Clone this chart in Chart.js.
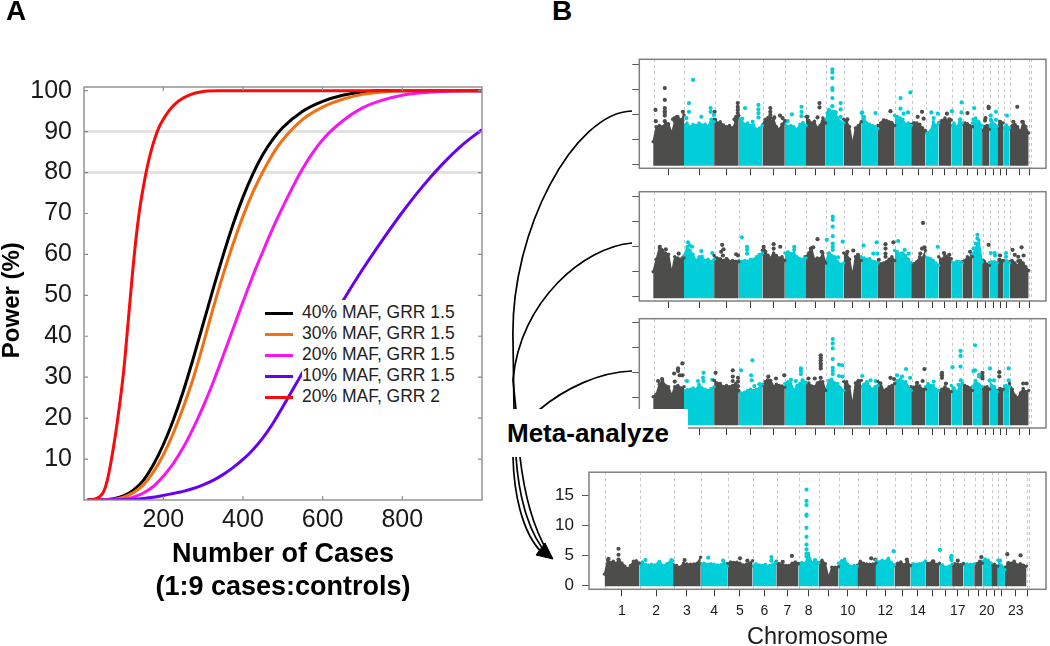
<!DOCTYPE html>
<html>
<head>
<meta charset="utf-8">
<title>Power and Manhattan plots</title>
<script src="https://cdn.jsdelivr.net/npm/chart.js@4"></script>
<style>
  html, body { margin: 0; padding: 0; background: #fff; }
  #page { position: relative; width: 1050px; height: 646px; overflow: hidden; font-family: "Liberation Sans", Arial, sans-serif; }
  #page canvas { position: absolute; }
  .tag { position: absolute; font-weight: bold; font-size: 28px; line-height: 28px; color: #000; }
  #arrows { position: absolute; left: 0; top: 0; z-index: 3; }
  #meta { position: absolute; left: 500px; top: 409px; width: 188px; height: 48px; background: #fff; z-index: 4;
          font-weight: bold; font-size: 26px; line-height: 48px; color: #000; text-indent: 7px; white-space: nowrap; }
  #legendText { position: absolute; left: 302px; top: 300px; width: 165px; background: #fff; z-index: 2; padding-top: 2px; }
  #legendText div { font-size: 17.5px; height: 21px; line-height: 21px; color: #222; white-space: nowrap; }
  #legendLines { position: absolute; left: 265px; top: 312px; z-index: 2; }
  #legendLines div { height: 3px; width: 28px; margin-bottom: 18px; }
</style>
</head>
<body>
<div id="page">
  <canvas id="powerChart" width="500" height="620" style="left:0;top:0"></canvas>
  <canvas id="panel1" width="450" height="130" style="left:600px;top:50px"></canvas>
  <canvas id="panel2" width="450" height="130" style="left:600px;top:182px"></canvas>
  <canvas id="panel3" width="450" height="130" style="left:600px;top:309px"></canvas>
  <canvas id="panel4" width="510" height="195" style="left:540px;top:454px"></canvas>
  <div class="tag" style="left:6px;top:-3px">A</div>
  <div class="tag" style="left:552px;top:-3px">B</div>
  <div id="legendLines"></div>
  <div id="legendText"></div>
  <div id="meta">Meta-analyze</div>
  <svg id="arrows" width="1050" height="646" fill="none" stroke="#000" stroke-width="1.7">
    <path d="M632 111 C575 112 510 230 513 340 L514 410"/>
    <path d="M632 243 C585 247 520 300 513 380 L516 410"/>
    <path d="M632 371 C600 372 565 388 539 410"/>
    <path d="M513 457 C514 500 525 540 546 556"/>
    <path d="M516 457 C519 500 530 536 548 555"/>
    <path d="M520 457 C525 500 534 530 549 554"/>
    <polygon points="553,559 536,555 545,543" fill="#000" stroke="#000" stroke-width="1"/>
  </svg>
</div>
<script>
// Panel A - power curves
const caseCounts = [10, 25, 50, 75, 100, 125, 150, 175, 200, 225, 250, 275, 300, 325, 350, 375, 400, 425, 450, 475, 500, 550, 600, 650, 700, 750, 800, 850, 900, 950, 1000];
const maf40 = [0, 0, 0.1, 0.3, 1, 2.4, 4.8, 8.6, 13.5, 19.5, 26.5, 34.5, 43, 51.5, 59.7, 67.3, 74, 79.7, 84.4, 88.1, 91, 95, 97.4, 98.9, 99.7, 100, 100, 100, 100, 100, 100];
const maf30 = [0, 0, 0.1, 0.2, 0.7, 1.8, 3.7, 6.8, 11, 16.3, 22.6, 29.7, 38, 46.8, 55, 62.5, 69.3, 75.2, 80.2, 84.5, 88, 93, 96, 97.9, 99.1, 99.7, 100, 100, 100, 100, 100];
const maf20 = [0, 0, 0, 0.1, 0.2, 0.7, 1.7, 3.3, 5.8, 8.9, 12.8, 17.5, 22.8, 28.7, 35.2, 41.8, 48.4, 54.8, 60.7, 66.4, 71.6, 81, 88, 92.6, 95.8, 97.7, 98.9, 99.5, 99.8, 100, 100];
const maf10 = [0, 0, 0, 0, 0.05, 0.15, 0.35, 0.65, 1.1, 1.6, 2.1, 2.8, 3.7, 4.8, 6.2, 7.9, 9.9, 12.3, 15.2, 18.7, 22.8, 31.2, 40, 48.5, 56.3, 63.5, 70.3, 76.5, 82, 86.7, 90.5];
const grrCases = [10, 25, 40, 50, 60, 70, 80, 90, 100, 110, 120, 130, 140, 150, 160, 170, 180, 190, 200, 215, 230, 250, 270, 290, 310, 340, 1000];
const grr2 = [0, 0.1, 0.8, 2, 5, 10, 16, 23, 31, 41.5, 52.5, 62.5, 70.5, 76.5, 81.5, 85.5, 88.7, 91.2, 93, 95.2, 96.8, 98.2, 99.1, 99.6, 99.9, 100, 100];
const seriesNames = ['40% MAF, GRR 1.5', '30% MAF, GRR 1.5', '20% MAF, GRR 1.5', '10% MAF, GRR 1.5', '20% MAF, GRR 2'];
const seriesCases = [caseCounts, caseCounts, caseCounts, caseCounts, grrCases];
const seriesValues = [maf40, maf30, maf20, maf10, grr2];
const seriesColors = ['#000000', '#f2700f', '#f516f0', '#6a00f0', '#fa0a0a'];
const powerTicks = [10, 20, 30, 40, 50, 60, 70, 80, 90, 100];
const caseTicks = [200, 400, 600, 800];
const powerGuides = [80, 90];

// Panel B - chromosome layout (Mb), last one has no marks
const chrLengths = [249, 243, 199, 191, 181, 171, 159, 146, 141, 135, 135, 133, 115, 107, 102, 90, 81, 78, 59, 63, 48, 51, 155, 20];
const chrLabels = ['1', '2', '3', '4', '5', '6', '7', '8', '', '10', '', '12', '', '14', '', '', '17', '', '', '20', '', '', '23', ''];
const logTicks = [0, 2, 4, 6, 8];
const metaTicks = [0, 5, 10, 15];

// top of the point mass along each chromosome
const panel1Mass = [
  [1.8, 3.0, 3.1, 3.0, 3.3, 3.25, 2.5, 3.4, 3.8, 3.55, 3.95], [3.15, 3.3, 3.0, 3.2, 3.1, 3.3, 3.15, 3.2, 3.05, 3.6, 3.4],
  [3.6, 3.3, 3.4, 3.15, 3.0, 3.1, 2.9, 3.4, 3.9], [3.7, 3.5, 3.2, 3.3, 3.1, 3.15, 2.8, 2.9, 3.1], [3.15, 3.6, 3.75, 3.4, 3.6, 3.0, 2.8, 3.2, 3.5],
  [3.3, 3.0, 3.1, 3.0, 2.8, 3.2, 3.35, 3.1], [3.8, 3.5, 3.3, 3.45, 2.9, 3.1, 3.7, 3.3], [3.6, 4.2, 4.0, 4.2, 3.7, 3.4, 3.3], [3.6, 3.4, 3.0, 1.6, 2.9, 3.1, 3.4],
  [4.1, 3.7, 3.3, 3.2, 3.1, 3.0, 2.85], [3.1, 3.3, 3.55, 3.5, 3.4, 3.35, 3.1], [3.9, 3.5, 3.7, 3.6, 3.2, 3.3, 3.1], [3.2, 3.0, 3.3, 3.2, 2.9, 2.7],
  [2.5, 2.55, 2.7, 3.4, 3.1, 3.3], [3.3, 3.5, 3.7, 3.4, 3.55], [3.1, 3.3, 3.0, 3.4, 3.3], [3.2, 3.3, 3.25, 3.1, 3.0], [3.3, 3.7, 3.4, 3.1], [2.7, 3.0, 3.1, 2.8],
  [3.1, 3.4, 3.2, 3.05], [3.0, 3.4, 3.3], [2.9, 3.15, 2.9], [2.85, 3.1, 3.2, 3.0, 2.6, 3.4, 3.0, 2.5]
];
const panel2Mass = [
  [2.0, 3.0, 3.9, 3.7, 3.5, 3.4, 1.9, 3.2, 3.1, 3.0, 3.1], [3.3, 4.0, 3.7, 3.4, 2.9, 3.2, 3.25, 2.9, 3.0, 2.8, 3.0],
  [3.3, 3.1, 3.05, 2.9, 3.05, 2.85, 2.9, 2.85, 2.8], [2.9, 2.85, 2.9, 2.85, 3.0, 3.0, 3.2, 3.3, 3.5], [3.7, 3.5, 3.3, 3.1, 3.5, 3.3, 3.1, 3.2, 2.9],
  [3.5, 3.6, 3.45, 3.5, 3.2, 3.05, 3.0, 3.1], [3.2, 3.5, 3.9, 3.0, 3.1, 3.05, 3.5, 2.7], [2.8, 3.5, 3.3, 3.2, 2.8, 2.6, 2.7], [3.5, 3.4, 3.0, 1.7, 3.2, 3.2, 2.9],
  [3.2, 3.1, 3.0, 3.05, 2.85, 2.8, 2.7], [2.7, 2.65, 2.7, 2.8, 3.0, 3.2, 2.9], [3.7, 3.6, 3.4, 3.5, 3.3, 3.0, 2.7], [2.7, 2.65, 2.8, 3.2, 3.1, 3.7],
  [3.2, 3.1, 3.05, 2.9, 2.7, 2.5], [3.2, 3.0, 3.3, 3.1, 3.05], [2.8, 2.7, 2.85, 2.8, 2.7], [2.8, 2.9, 3.2, 3.1, 3.2], [3.4, 3.9, 4.5, 2.8], [2.9, 2.8, 2.6, 2.5],
  [2.75, 2.8, 2.8, 2.7], [2.7, 2.95, 2.9], [2.8, 2.9, 2.7], [2.8, 2.9, 2.7, 2.5, 2.9, 2.7, 2.4, 2.1]
];
const panel3Mass = [
  [2.1, 2.3, 3.1, 3.4, 3.0, 2.9, 2.2, 2.9, 3.0, 2.8, 2.9], [2.6, 2.65, 2.7, 2.8, 2.7, 3.1, 2.8, 2.7, 2.6, 2.75, 2.9],
  [3.4, 3.2, 3.15, 2.9, 3.0, 2.9, 3.0, 3.15, 2.6], [2.5, 2.4, 2.45, 2.6, 2.7, 2.6, 2.7, 2.8, 3.1], [3.0, 3.3, 3.4, 3.4, 2.9, 3.1, 3.0, 2.95, 2.85],
  [3.15, 3.3, 3.2, 2.6, 3.0, 3.15, 3.4, 3.2], [3.2, 3.2, 2.95, 2.9, 3.2, 3.3, 3.3, 2.6], [2.6, 3.4, 3.5, 3.2, 3.15, 2.8, 2.6], [3.3, 3.3, 2.9, 1.4, 3.2, 3.4, 3.4],
  [2.9, 3.1, 3.3, 2.9, 2.7, 2.9, 3.0], [3.3, 3.2, 2.6, 2.7, 2.9, 3.0, 3.15], [3.15, 3.4, 3.5, 3.3, 3.3, 2.9, 2.6], [2.9, 2.85, 3.0, 2.95, 2.7, 2.7],
  [2.9, 3.15, 3.0, 3.0, 2.7, 2.6], [2.6, 2.7, 2.9, 2.7, 2.5], [3.0, 2.8, 2.5, 2.9, 3.15], [3.15, 3.0, 2.9, 2.8, 2.6], [2.9, 3.4, 3.1, 2.9], [2.75, 2.85, 2.9, 2.7],
  [3.4, 3.0, 2.9, 2.5], [2.6, 2.75, 2.7], [2.6, 3.0, 2.9], [3.15, 2.7, 2.2, 2.0, 2.4, 2.75, 2.5, 2.6]
];
const panel4Mass = [
  [1.85, 4.2, 3.8, 4.0, 3.7, 4.2, 3.7, 3.2, 2.8, 3.3, 4.0, 4.1, 3.7], [3.7, 3.9, 3.5, 3.4, 3.5, 3.4, 3.6, 3.5, 3.3, 3.6, 3.9, 4.1],
  [3.45, 3.3, 3.0, 3.7, 3.55, 3.5, 3.55, 3.7, 4.7], [3.6, 3.7, 3.5, 3.6, 3.5, 3.4, 3.4, 3.8, 3.2], [3.6, 3.9, 3.8, 3.85, 3.7, 3.4, 3.5, 3.7, 4.1],
  [3.2, 3.6, 3.4, 3.3, 3.1, 3.3, 3.5, 3.9], [4.0, 3.6, 3.4, 3.3, 3.3, 3.7, 3.9, 3.6], [3.7, 3.8, 3.7, 5.3, 3.7, 4.2, 3.7], [3.7, 4.2, 3.6, 1.3, 3.0, 3.0, 3.1],
  [3.7, 4.1, 4.4, 3.5, 3.2, 3.3, 3.2], [3.3, 4.0, 3.7, 3.55, 3.5, 3.55, 3.7], [4.2, 3.9, 4.2, 4.0, 4.5, 3.8, 3.4], [3.3, 3.7, 3.9, 3.4, 4.0, 3.3],
  [3.2, 3.6, 3.5, 3.6, 3.7, 4.0], [4.0, 3.6, 4.0, 3.5, 3.7], [3.55, 3.4, 3.0, 3.2, 3.55], [3.2, 3.6, 3.5, 3.45, 3.6], [3.7, 3.55, 3.5, 3.55], [3.45, 3.6, 4.0, 3.7],
  [4.0, 4.4, 4.2, 3.7], [3.4, 3.5, 3.2], [4.2, 3.3, 2.6], [3.0, 3.5, 3.7, 4.0, 3.4, 3.6, 3.3, 3.2]
];

// single points standing out of the mass: [Mb, value]
const panel1Hits = [
  [19, 4.35], [21, 3.45], [94, 6.1], [94, 5.15], [94, 4.5], [94, 4.25], [94, 4.1], [94, 3.9], [94, 3.45], [240, 4.2], [193, 3.8], [174, 3.7], [161, 3.6],
  [322, 6.75], [289, 4.9], [289, 4.2], [268, 3.7], [389, 3.8], [464, 4.5], [464, 4.2], [496, 4.2], [490, 3.95], [683, 4.9], [683, 4.6], [683, 4.35], [683, 4.1], [670, 3.8], [501, 3.55], [657, 3.6],
  [742, 4.5], [850, 4.75], [850, 4.4], [850, 4.1], [850, 3.75], [718, 3.65], [804, 3.4], [946, 4.5], [946, 4.2], [946, 3.95], [946, 3.7], [1024, 3.9], [1045, 3.7], [978, 3.75],
  [1120, 4], [1198, 4.6], [1198, 4.2], [1198, 3.85], [1085, 3.45], [1343, 4.9], [1343, 4.55], [1246, 3.8], [1327, 3.75],
  [1447, 7.6], [1447, 7.35], [1447, 6.9], [1447, 6.1], [1447, 5.95], [1447, 5.3], [1447, 4.65], [1447, 4.2], [1514, 4.9], [1514, 4.4], [1514, 3.8], [1420, 4.35], [1474, 4.15], [1407, 4.1], [1461, 3.95],
  [1568, 3.6], [1796, 4.1], [1688, 4.15], [1702, 3.8], [1916, 4.25], [1863, 3.5], [1997, 5.3], [1997, 4.45], [2077, 5.75], [2058, 4.15], [2023, 4.05], [1970, 3.8],
  [2171, 4.2], [2136, 3.8], [2184, 3.65], [2106, 3.3], [2246, 4.15], [2299, 4.05], [2265, 3.7], [2372, 4.05], [2391, 3.6], [2412, 4.25], [2479, 3.6], [2490, 4.95], [2490, 4.15], [2538, 4.1],
  [2592, 4.5], [2586, 3.6], [2709, 4.6], [2709, 4.5], [2683, 3.7], [2680, 3.5], [2768, 4.2], [2726, 3.9], [2726, 3.55], [2768, 3.55], [2801, 3.4], [2857, 3.9], [2940, 4.6], [2908, 3.4], [2980, 3.4]
];
const panel2Hits = [
  [54, 4], [67, 3.75], [102, 3.8], [80, 3.45], [206, 3.45], [240, 3.1], [281, 4.35], [295, 4.1], [314, 4], [281, 3.75], [300, 3.35], [389, 3.65], [477, 3.5],
  [557, 4.15], [568, 3.8], [549, 3.6], [563, 3.3], [670, 3.4], [685, 3.3], [595, 3], [716, 4.75], [758, 4], [758, 3.75], [758, 3.45], [858, 3.35], [878, 3.4],
  [892, 4], [892, 3.75], [973, 4.2], [973, 3.85], [1026, 4], [925, 3.3], [970, 3.3], [906, 3.6], [1139, 4], [1139, 3.75], [1099, 3.45], [1227, 3.2],
  [1327, 4.6], [1273, 3.85], [1292, 3.95], [1273, 3.6], [1361, 3.6], [1345, 2.95], [1450, 6.4], [1450, 6.15], [1450, 5.6], [1450, 4.85], [1450, 4.25], [1450, 4], [1450, 3.75], [1402, 4.55], [1530, 4.4], [1493, 3.15], [1420, 3.45],
  [1568, 3.6], [1616, 3.7], [1654, 3.35], [1699, 4.1], [1804, 4.35], [1777, 3.45], [1810, 3.45], [1822, 2.95], [1876, 4.2], [1876, 3.85], [1876, 3.45], [1876, 3.2], [1940, 4.35], [1978, 4.45], [2031, 3.75], [2064, 3.45], [2005, 3.45],
  [2179, 5.9], [2190, 3.95], [2171, 3.85], [2157, 3.45], [2297, 4], [2348, 3.5], [2391, 3.35], [2380, 3.2], [2559, 3.6], [2573, 3.35],
  [2618, 4.95], [2618, 4.65], [2605, 4.25], [2586, 3.85], [2618, 3.45], [2667, 2.85], [2709, 4.15], [2726, 3.5], [2758, 3.5], [2760, 3.3], [2801, 3.3], [2795, 2.95], [2849, 3.5], [2849, 3.2],
  [2902, 3.75], [2975, 3.95], [2920, 3.35], [2948, 3.2], [2991, 3.3], [2948, 2.85]
];
const panel3Hits = [
  [72, 3.5], [40, 3.35], [169, 3.95], [201, 4.35], [201, 4.15], [236, 4.75], [174, 3.3], [214, 3.8], [236, 3.8], [273, 3.35], [407, 4], [402, 3.6], [407, 3.35], [362, 3.35], [477, 3.45],
  [504, 4], [643, 4.2], [643, 3.7], [643, 3.35], [685, 3.6], [685, 3.3], [685, 2.95], [710, 4.2], [801, 5], [791, 3.8], [796, 3.4], [858, 3.1], [817, 2.95],
  [930, 3.7], [992, 3.55], [1059, 3.8], [925, 3.4], [1193, 4.35], [1193, 4.15], [1193, 3.9], [1112, 3.45], [1152, 3.35], [1206, 3.4], [1254, 3.55], [1305, 3.55],
  [1353, 3.6], [1353, 5.4], [1353, 5.2], [1353, 5], [1353, 4.75], [1353, 4.55], [1353, 4.35], [1450, 6.7], [1450, 6.35], [1450, 5.95], [1450, 5.1], [1450, 4.4], [1450, 4.15], [1450, 3.9], [1501, 4.65], [1528, 4.6], [1501, 3.75], [1528, 3.7], [1434, 3.4],
  [1688, 3.75], [1755, 3.4], [1796, 3.35], [1729, 3.15], [1916, 3.6], [1945, 3.5], [1970, 3.8], [2042, 4.3], [2010, 3.7], [2075, 3.6], [2037, 3.15],
  [2190, 4.3], [2176, 3.35], [2131, 3.2], [2265, 3.3], [2332, 4], [2332, 3.8], [2332, 3.6], [2364, 3.15], [2417, 4.45], [2482, 5.75], [2482, 5.35], [2482, 4.5], [2484, 3.4], [2466, 3.05],
  [2600, 6.2], [2600, 4.2], [2586, 4.15], [2632, 3.85], [2632, 3.7], [2659, 4], [2659, 3.75], [2659, 3.55], [2720, 4.35], [2720, 3.4], [2752, 3.4], [2795, 4.05], [2795, 3.7], [2870, 4.35], [2870, 3.4], [2841, 2.95], [2988, 3.15], [3015, 3.15]
];
const panel4Hits = [
  [100, 6.1], [100, 5.1], [100, 4.3], [28, 4.4], [294, 4.2], [394, 3.9], [480, 4.2], [575, 4.2], [745, 4.6], [852, 4.1], [973, 4.5], [1026, 4.1], [1156, 3.4], [1199, 4.7], [1199, 4.1], [1227, 3.7], [1280, 3.9], [1346, 4.9],
  [1451, 16], [1451, 14.1], [1451, 13.4], [1451, 11.8], [1451, 11.6], [1451, 9.6], [1451, 8.1], [1451, 6.8], [1451, 6], [1451, 5.3], [1451, 4.8], [1512, 4.2],
  [1916, 4.5], [1945, 4.3], [2077, 5.7], [2172, 4.3], [2362, 4.0], [2410, 5.9], [2493, 4.9], [2490, 4.6], [2493, 4.2], [2538, 4.1], [2707, 4.7], [2842, 4.1], [2894, 5.2], [2901, 3.7], [2989, 5.0], [3008, 3.3]
];

const fontFamily = '"Liberation Sans", Arial, sans-serif';
const darkPoint = '#4d4d4b';
const tealPoint = '#00ced8';

Chart.defaults.animation = false;
Chart.defaults.responsive = false;
Chart.defaults.font.family = fontFamily;

// chromosome start positions from the lengths
const chrStarts = [];
chrLengths.reduce((sum, len, i) => { chrStarts[i] = sum; return sum + len; }, 0);
const chrCenters = chrLengths.map((len, i) => chrStarts[i] + len / 2);
const chrEdges = chrStarts.map(s => s + 8).concat([chrStarts[23] + 20]);

function chrColor(i) { return i % 2 === 0 ? darkPoint : tealPoint; }
function chrOf(mb) {
  let idx = 0;
  chrStarts.forEach((s, i) => { if (mb >= s) idx = i; });
  return idx;
}

// box around the plot, and short inward ticks for panel A
const framePlugin = {
  id: 'frame',
  afterDatasetsDraw(chart, args, opts) {
    const a = chart.chartArea, c = chart.ctx;
    c.save();
    c.strokeStyle = opts.color;
    c.lineWidth = opts.width;
    c.strokeRect(a.left, a.top, a.right - a.left, a.bottom - a.top);
    if (opts.inward) {
      c.lineWidth = 1.2;
      c.beginPath();
      chart.scales.x.ticks.forEach(t => {
        const px = chart.scales.x.getPixelForValue(t.value);
        c.moveTo(px, a.top); c.lineTo(px, a.top + opts.inward);
        c.moveTo(px, a.bottom); c.lineTo(px, a.bottom - opts.inward);
      });
      chart.scales.y.ticks.forEach(t => {
        const py = chart.scales.y.getPixelForValue(t.value);
        c.moveTo(a.left, py); c.lineTo(a.left + opts.inward, py);
        c.moveTo(a.right, py); c.lineTo(a.right - opts.inward, py);
      });
      c.stroke();
    }
    c.restore();
  }
};

// Power chart
new Chart(document.getElementById('powerChart'), {
  type: 'line',
  data: {
    datasets: seriesNames.map((name, i) => ({
      label: name,
      data: seriesCases[i].map((n, k) => ({ x: n, y: seriesValues[i][k] })),
      borderColor: seriesColors[i],
      borderWidth: 3,
      pointRadius: 0,
      cubicInterpolationMode: 'monotone',
      order: seriesNames.length - i
    }))
  },
  options: {
    events: [],
    layout: { padding: { top: 87, right: 18 } },
    plugins: {
      legend: { display: false },
      tooltip: { enabled: false },
      frame: { color: '#8c8c8c', width: 1.4, inward: 4 }
    },
    scales: {
      x: {
        type: 'linear', min: 1, max: 1000,
        afterBuildTicks: s => { s.ticks = caseTicks.map(v => ({ value: v })); },
        afterFit: s => { s.height = 120; },
        grid: { display: false },
        border: { display: false },
        ticks: { color: '#1a1a1a', font: { size: 25 }, padding: -3, maxRotation: 0 },
        title: {
          display: true, color: '#000',
          text: ['Number of Cases', '(1:9 cases:controls)'],
          font: { size: 27, weight: 'bold', lineHeight: 1.22 },
          padding: { top: 0, bottom: 16 }
        }
      },
      y: {
        min: 0, max: 100.9,
        afterBuildTicks: s => { s.ticks = powerTicks.map(v => ({ value: v })); },
        afterFit: s => { s.width = 84; },
        grid: {
          drawTicks: false,
          color: ctx => powerGuides.includes(ctx.tick.value) ? '#e2e2e2' : 'rgba(0,0,0,0)',
          lineWidth: 3
        },
        border: { display: false },
        ticks: { color: '#1a1a1a', font: { size: 25 }, padding: 12 },
        title: {
          display: true, color: '#000', text: 'Power (%)  ',
          font: { size: 24, weight: 'bold', lineHeight: 1 },
          padding: 0
        }
      }
    }
  },
  plugins: [framePlugin]
});

// Legend for the power chart
seriesNames.forEach((name, i) => {
  const line = document.createElement('div');
  line.style.background = seriesColors[i];
  document.getElementById('legendLines').appendChild(line);
  const text = document.createElement('div');
  text.textContent = name;
  document.getElementById('legendText').appendChild(text);
});

// One Manhattan panel
function manhattan(id, mass, hits, cfg) {
  const massSets = mass.map((vals, i) => ({
    data: vals.map((v, k) => ({ x: chrStarts[i] + k * chrLengths[i] / (vals.length - 1), y: v })),
    borderColor: chrColor(i),
    backgroundColor: chrColor(i),
    borderWidth: 1.5,
    pointRadius: 1.7,
    pointBorderWidth: 0,
    pointBackgroundColor: chrColor(i),
    tension: 0,
    fill: { value: cfg.base }
  }));
  const hitSet = {
    data: hits.map(h => ({ x: h[0], y: h[1] })),
    showLine: false,
    pointRadius: 2.1,
    pointBorderWidth: 0,
    pointBackgroundColor: ctx => chrColor(chrOf(ctx.raw.x))
  };
  new Chart(document.getElementById(id), {
    type: 'line',
    data: { datasets: massSets.concat([hitSet]) },
    options: {
      events: [],
      layout: { padding: { top: cfg.padTop, right: cfg.padRight } },
      plugins: {
        legend: { display: false },
        tooltip: { enabled: false },
        frame: { color: '#808080', width: 1.5, inward: 0 }
      },
      scales: {
        x: {
          type: 'linear', min: -112, max: 3172,
          afterBuildTicks: s => { s.ticks = chrCenters.map(v => ({ value: v })); },
          afterFit: s => { s.height = cfg.axisHeight; },
          grid: { drawOnChartArea: false, drawTicks: true, tickLength: 7, tickColor: '#3a3a3a', tickWidth: 1 },
          border: { display: false },
          ticks: {
            display: cfg.labelled, autoSkip: false, maxRotation: 0, color: '#1a1a1a', font: { size: 14 }, padding: 6,
            callback: (v, i) => chrLabels[i]
          },
          title: {
            display: cfg.labelled, text: 'Chromosome', color: '#1a1a1a',
            font: { size: 23.5, lineHeight: 1 }, padding: { top: 0, bottom: 0 }
          }
        },
        xEdges: {
          type: 'linear', axis: 'x', position: 'top', min: -112, max: 3172,
          afterBuildTicks: s => { s.ticks = chrEdges.map(v => ({ value: v })); },
          afterFit: s => { s.height = 0; },
          grid: { drawTicks: false, color: '#c8c8c8', lineWidth: 1 },
          border: { display: false, dash: [3, 3] },
          ticks: { display: false }
        },
        y: {
          min: cfg.yMin, max: cfg.yMax,
          afterBuildTicks: s => { s.ticks = cfg.ticks.map(v => ({ value: v })); },
          afterFit: s => { s.width = cfg.axisWidth; },
          grid: { drawOnChartArea: false, drawTicks: true, tickLength: 7, tickColor: '#555', tickWidth: 1 },
          border: { display: false },
          ticks: { display: cfg.labelled, color: '#1a1a1a', font: { size: 17 }, padding: 8 }
        }
      }
    },
    plugins: [framePlugin]
  });
}

manhattan('panel1', panel1Mass, panel1Hits, { ticks: logTicks, yMin: -0.32, yMax: 8.4, base: -0.11, padTop: 9.3, padRight: 2, axisHeight: 11.7, axisWidth: 39.3, labelled: false });
manhattan('panel2', panel2Mass, panel2Hits, { ticks: logTicks, yMin: -0.34, yMax: 8.4, base: -0.13, padTop: 9.7, padRight: 2, axisHeight: 11, axisWidth: 39.3, labelled: false });
manhattan('panel3', panel3Mass, panel3Hits, { ticks: logTicks, yMin: -0.4, yMax: 8.32, base: -0.18, padTop: 9.7, padRight: 2, axisHeight: 11, axisWidth: 39.3, labelled: false });
manhattan('panel4', panel4Mass, panel4Hits, { ticks: metaTicks, yMin: -0.68, yMax: 18.9, base: -0.16, padTop: 12.7, padRight: 0.7, axisHeight: 59.7, axisWidth: 49, labelled: true });
</script>
</body>
</html>
